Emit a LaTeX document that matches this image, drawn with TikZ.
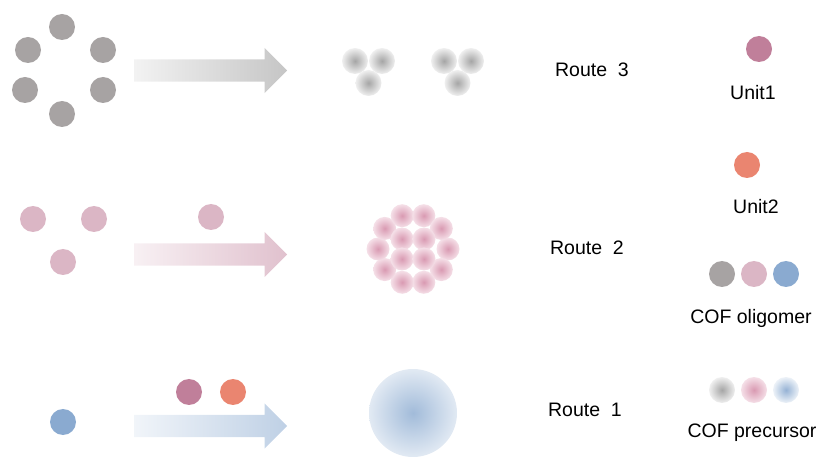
\documentclass[tikz,border=0pt]{standalone}
\usepackage{fontspec}
\setmainfont{Liberation Sans}
\usetikzlibrary{shapes.arrows,calc}

\definecolor{cofgrey}{HTML}{A7A3A3}
\definecolor{cofpink}{HTML}{DBB6C5}
\definecolor{cofblue}{HTML}{8AAAD0}
\definecolor{unitone}{HTML}{C07F9A}
\definecolor{unittwo}{HTML}{EA8570}
\definecolor{precpink}{HTML}{D99AB2}
\definecolor{precpinkrim}{HTML}{F5E0E8}

\begin{document}
\begin{tikzpicture}[x=1pt, y=-1pt,
        ball/.style={circle, inner sep=0pt, minimum size=26pt},
        oligo/.style={ball, fill=#1},
        prec/.style 2 args={ball, inner color=#1, outer color=#2},
        route/.style={single arrow, anchor=tail, inner sep=0pt, text height=11pt,
                      text depth=11pt, minimum height=153pt, minimum width=45pt,
                      single arrow head extend=11.5pt},
        lbl/.style={anchor=base, font=\fontsize{19.5}{22}\selectfont}
    ]
    \useasboundingbox (0,0) rectangle (823,457);

    % Route 3: six grey oligomers -> small precursor clusters
    \node[oligo=cofgrey] (g1) at (62,27) {};
    \node[oligo=cofgrey] (g2) at (28,50) {};
    \node[oligo=cofgrey] (g3) at (103,50) {};
    \node[oligo=cofgrey] (g4) at (25,90) {};
    \node[oligo=cofgrey] (g5) at (103,90) {};
    \node[oligo=cofgrey] (g6) at (62,114) {};
    \node[route, left color=gray!10, right color=gray!45] (arr3) at (134,70.5) {};
    \foreach \x/\n in {355/a, 444/b} {
        \node[prec={gray!70}{gray!12}] (t\n1) at (\x,61) {};
        \node[prec={gray!70}{gray!12}] (t\n2) at (\x+27,61) {};
        \node[prec={gray!70}{gray!12}] (t\n3) at (\x+13.5,83) {};
    }
    \node[lbl] (r3) at (592,77) {Route\ \ 3};

    % Route 2: pink oligomers -> one big cluster
    \node[oligo=cofpink] (p1) at (33,219) {};
    \node[oligo=cofpink] (p2) at (94,219) {};
    \node[oligo=cofpink] (p3) at (63,262) {};
    \node[oligo=cofpink] (p4) at (211,217) {};
    \node[route, left color=cofpink!20, right color=cofpink!85] (arr2) at (134,254.5) {};
    \foreach \a [count=\i] in {0,36,...,324}
        \node[prec={precpink}{precpinkrim}, minimum size=23pt]
            (c\i) at ($(413,249)+(\a:35)$) {};
    \foreach \dx/\dy [count=\i] in {-11/-10, 11/-10, -11/10, 11/10}
        \node[prec={precpink}{precpinkrim}, minimum size=23pt]
            (k\i) at (413+\dx,249+\dy) {};
    \node[lbl] (r2) at (587,255) {Route\ \ 2};

    % Route 1: blue oligomer + units -> one sphere
    \node[oligo=cofblue] (b1) at (63,422) {};
    \node[oligo=unitone] (u1) at (189,392) {};
    \node[oligo=unittwo] (u2) at (233,392) {};
    \node[route, left color=cofblue!12, right color=cofblue!55] (arr1) at (134,426) {};
    \node[circle, inner sep=0pt, minimum size=88pt, inner color=cofblue!80,
          outer color=cofblue!25] (sph) at (413,413) {};
    \node[lbl] (r1) at (585,417) {Route\ \ 1};

    % legend
    \node[oligo=unitone] (lu1) at (759,49) {};
    \node[lbl] at (753,100) {Unit1};
    \node[oligo=unittwo] (lu2) at (747,165) {};
    \node[lbl] at (756,214) {Unit2};
    \node[oligo=cofgrey] (lo1) at (722,274) {};
    \node[oligo=cofpink] (lo2) at (754,274) {};
    \node[oligo=cofblue] (lo3) at (786,274) {};
    \node[lbl] at (751,324) {COF oligomer};
    \node[prec={gray!70}{gray!12}] (lp1) at (722,390) {};
    \node[prec={precpink}{precpinkrim}] (lp2) at (754,390) {};
    \node[prec={cofblue!90}{cofblue!15}] (lp3) at (786,390) {};
    \node[lbl] at (752,438) {COF precursor};
\end{tikzpicture}
\end{document}
